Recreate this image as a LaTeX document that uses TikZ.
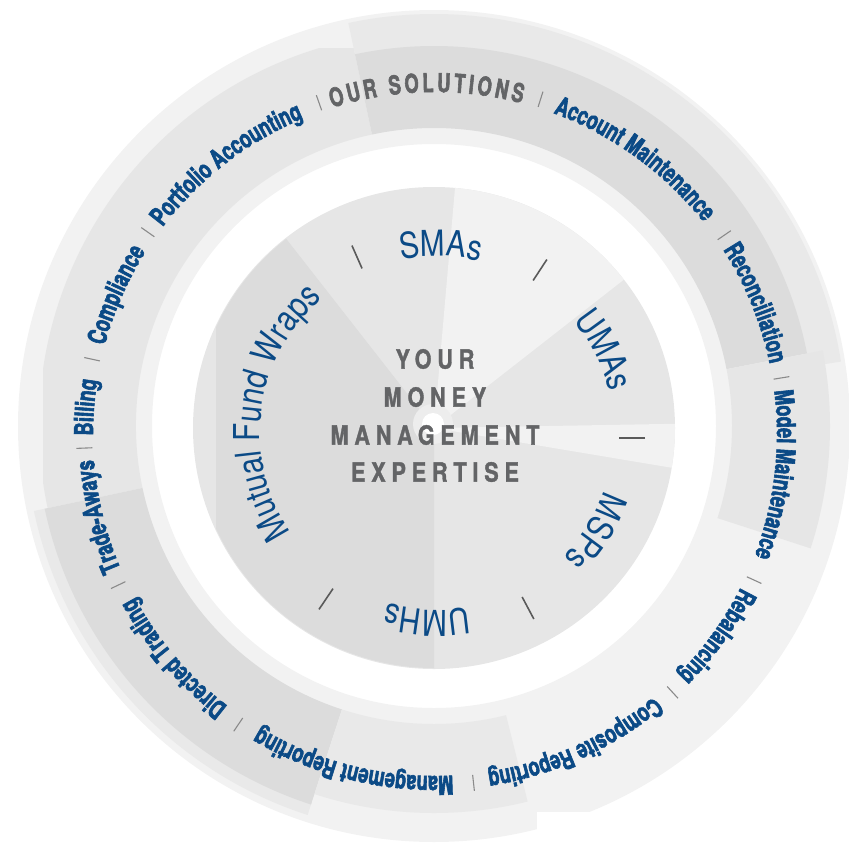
\documentclass[tikz,border=0pt]{standalone}
\usepackage{fontspec}
\setmainfont{TeX Gyre Heros}
\newfontfamily\ringfont[FakeStretch=0.70,FakeBold=2.2]{TeX Gyre Heros}
\newfontfamily\innerfont[FakeStretch=0.83]{TeX Gyre Heros}
\newfontfamily\midfont[FakeStretch=0.82,LetterSpace=22,FakeBold=1.3]{TeX Gyre Heros}
\usetikzlibrary{decorations.text,calc}
\definecolor{ringblue}{HTML}{0B4A86}
\definecolor{txtgray}{HTML}{636466}
\definecolor{sepgray}{HTML}{8A8A8A}
\definecolor{tickgray}{HTML}{5A5A5A}
\definecolor{gA}{HTML}{F2F2F2}
\definecolor{gB}{HTML}{E6E6E6}
\definecolor{gC}{HTML}{DCDCDC}
\definecolor{gD}{HTML}{E9E9E9}
\newcommand\ringstyle{\ringfont\bfseries\fontsize{26}{30}\selectfont}
\newcommand\innerstyle{\innerfont\fontsize{35.7}{40}\selectfont}
\newcommand\annsec[5]{\fill[#1] ($(C)+(#2:#5pt)$) arc[start angle=#2, end angle=#3, radius=#5pt] -- ($(C)+(#3:#4pt)$) arc[start angle=#3, end angle=#2, radius=#4pt] -- cycle;}
\newcommand\ringlbl[2]{\path[decorate, decoration={text along path, text align=center, text color=ringblue, text={|\ringstyle|#2}}] ($(CT)+({#1+32}:342pt)$) arc[start angle={#1+32}, end angle={#1-32}, radius=342pt];}
\newcommand\innerlbl[3]{\path[decorate, decoration={text along path, text align=center, text color=ringblue, text={|\innerstyle|#3}}] ($(IT)+({#1+#2}:177pt)$) arc[start angle={#1+#2}, end angle={#1-#2}, radius=177pt];}
\newcommand\ringsep[1]{\draw[sepgray, line width=1.1pt] ($(CT)+(#1:343pt)$) -- ($(CT)+(#1:359pt)$);}
\tikzset{
  tickmark/.style={draw=tickgray, line width=1.6pt},
  midtext/.style={inner sep=0pt, text=txtgray, font=\midfont\bfseries\fontsize{26.4}{30}\selectfont},
}
\begin{document}
\begin{tikzpicture}[x=1pt,y=1pt]
\useasboundingbox (0,0) rectangle (849,-846);
\coordinate (C) at (434,-426);
\coordinate (CT) at (435,-434);
\coordinate (IC) at (434,-428);
\coordinate (IT) at (437,-433);
% ---- outer ring and band pieces
\annsec{gA}{0}{360}{282}{416}
\fill[white] (537,-812) rectangle (720,-850);
\begin{scope}
  \clip (43,-48) rectangle (900,-900);
  \annsec{gB}{102}{192}{298}{395}
\end{scope}
\annsec{gD}{9}{102}{378}{412}
\annsec{gC}{11}{102}{298}{380}
\annsec{gB}{-18}{11}{298}{396}
\annsec{gD}{192}{252}{396}{409}
\annsec{gC}{192}{252}{298}{398}
\annsec{gD}{252}{284}{298}{387}
% ---- inner disc
\fill[gB] (IC) circle[radius=241pt];
\begin{scope}
  \clip (216,0) rectangle (849,-846);
  \fill[gC] (IC) -- ++(128:240pt) arc[start angle=128, end angle=270, radius=240pt] -- cycle;
\end{scope}
\fill[gA] (IC) -- ++(38:241pt) arc[start angle=38, end angle=85, radius=241pt] -- cycle;
\fill[gA] (IC) -- ++(-9.5:241pt) arc[start angle=-9.5, end angle=1, radius=241pt] -- cycle;
\fill[gA!60!gB] (433,-424) circle[radius=20pt];
\fill[white] (433,-424) circle[radius=11pt];
% ---- ring labels
\path[decorate, decoration={text along path, text align=fit to path, text color=txtgray, text={|\ringstyle|OUR SOLUTIONS}}] ($(CT)+(107.5:342pt)$) arc[start angle=107.5, end angle=75.3, radius=342pt];
\ringlbl{54}{Account Maintenance}
\ringlbl{22.2}{Reconciliation}
\ringlbl{-6.8}{Model Maintenance}
\ringlbl{-35.7}{Rebalancing}
\ringlbl{-65.7}{Composite Reporting}
\ringlbl{-103.9}{Management Reporting}
\ringlbl{-139.4}{Directed Trading}
\ringlbl{-166.2}{Trade-Aways}
\ringlbl{175.6}{Billing}
\ringlbl{156.4}{Compliance}
\ringlbl{127.7}{Portfolio Accounting}
\foreach \a in {109.3,72.5,34.5,9.2,-24.6,-47.4,-83.7,-124.1,-154.5,-177.7,167.7,144.9}{\ringsep{\a}}
% ---- inner labels
\innerlbl{88.8}{30}{SMAs}
\innerlbl{26.4}{30}{UMAs}
\innerlbl{-31.8}{30}{MSPs}
\innerlbl{-93}{30}{UMHs}
\innerlbl{172.3}{55}{Mutual Fund Wraps}
% ---- ticks
\coordinate (t1) at (357,-257);
\coordinate (t2) at (540,-270);
\coordinate (t3) at (632,-438);
\coordinate (t4) at (528,-608);
\coordinate (t5) at (326,-599);
\draw[tickmark] ($(t1)+(113.8:12.5pt)$) -- ($(t1)+(293.8:12.5pt)$);
\draw[tickmark] ($(t2)+(56.8:12.5pt)$) -- ($(t2)+(236.8:12.5pt)$);
\draw[tickmark] ($(t3)+(0:13pt)$) -- ($(t3)+(180:13pt)$);
\draw[tickmark] ($(t4)+(-62:12.5pt)$) -- ($(t4)+(118:12.5pt)$);
\draw[tickmark] ($(t5)+(236:12.5pt)$) -- ($(t5)+(56:12.5pt)$);
% ---- centre text
\node[midtext] (l1) at (435,-359) {YOUR};
\node[midtext] (l2) at (435,-397) {MONEY};
\node[midtext] (l3) at (435,-435) {MANAGEMENT};
\node[midtext] (l4) at (435,-472) {EXPERTISE};
\end{tikzpicture}
\end{document}
